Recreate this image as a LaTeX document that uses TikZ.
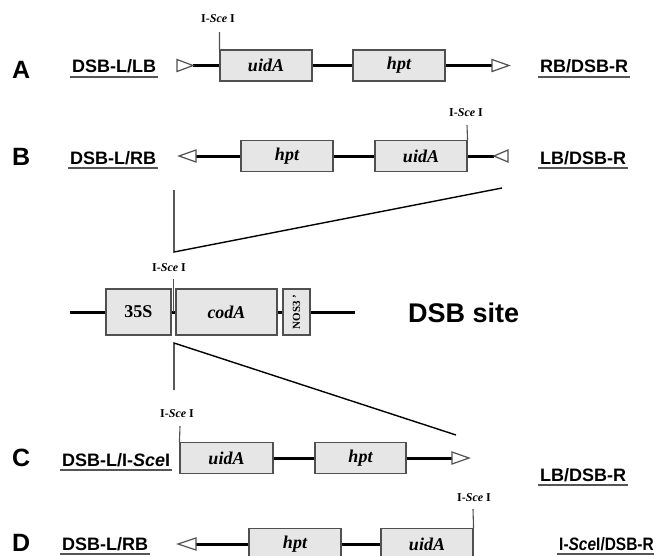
\documentclass[tikz,border=0pt]{standalone}
\usepackage{fontspec}
\setmainfont{Liberation Serif}
\setsansfont{Liberation Sans}
\definecolor{boxfill}{HTML}{E6E6E6}
\definecolor{edgec}{HTML}{505050}
\definecolor{ulc}{HTML}{555555}
\newcommand\ulab[1]{\draw[uline] ([xshift=-2pt,yshift=-4pt]#1.base west) -- ([xshift=2pt,yshift=-4pt]#1.base east);}
\begin{document}
\begin{tikzpicture}[x=1pt,y=-1pt,
  gene/.style={draw=edgec, fill=boxfill, line width=1.1pt, minimum height=31pt, inner sep=0pt,
    font=\fontsize{18}{18}\selectfont\bfseries\itshape},
  dna/.style={line width=3pt, black},
  tri/.style={draw=edgec, fill=white, line width=1.2pt, line join=miter},
  tick/.style={line width=1.1pt, draw=edgec},
  site/.style={font=\fontsize{12}{12}\selectfont\bfseries, inner sep=0pt},
  lab/.style={font=\fontsize{18}{18}\selectfont\sffamily\bfseries, inner sep=0pt, anchor=base west},
  rowlet/.style={font=\fontsize{25}{25}\selectfont\sffamily\bfseries, inner sep=0pt, anchor=base west},
  uline/.style={line width=2pt, draw=ulc},
  funnel/.style={line width=1.4pt, black},
  big/.style={font=\fontsize{27}{27}\selectfont\sffamily\bfseries, inner sep=0pt, anchor=base west}]
\useasboundingbox (0,0) rectangle (654,555);
\clip (0,0) rectangle (654,555);

% ---------- Row A ----------
\node[rowlet] (lA) at (12,78) {A};
\node[lab] (tA1) at (72,72.5) {DSB-L/LB};
\node[lab] (tA2) at (540,72.5) {RB/DSB-R};
\ulab{tA1}\ulab{tA2}
\coordinate (aL) at (193,65.5);
\coordinate (aR) at (493,65.5);
\node[gene, minimum width=92pt] (uA) at (266,65.5) {uidA};
\node[gene, minimum width=92pt] (hA) at (399,65.5) {hpt};
\draw[dna] (aL) -- (uA.west) (uA.east) -- (hA.west) (hA.east) -- (aR);
\draw[tri] (177,59.5) -- (193,65.5) -- (177,71.5) -- cycle;
\draw[tri] (492,59.5) -- (509,65.5) -- (492,71.5) -- cycle;
\node[site] (sA) at (218,18.5) {I-\textit{Sce} I};
\coordinate (kA) at (219.5,32);
\draw[tick] (uA.north west) -- (kA);

% ---------- Row B ----------
\node[rowlet] (lB) at (12,165) {B};
\node[lab] (tB1) at (70,164) {DSB-L/RB};
\node[lab] (tB2) at (540,164) {LB/DSB-R};
\ulab{tB1}\ulab{tB2}
\coordinate (bL) at (196,156);
\coordinate (bR) at (494,156);
\node[gene, minimum width=92pt] (hB) at (287,156) {hpt};
\node[gene, minimum width=92pt] (uB) at (421,156) {uidA};
\draw[dna] (bL) -- (hB.west) (hB.east) -- (uB.west) (uB.east) -- (bR);
\draw[tri] (196,150) -- (179,156) -- (196,162) -- cycle;
\draw[tri] (508,150) -- (494,156) -- (508,162) -- cycle;
\node[site] (sB) at (466,112.5) {I-\textit{Sce} I};
\coordinate (kB) at (467,125);
\draw[tick] (uB.north east) -- (kB);

% ---------- funnel upper ----------
\coordinate (f1) at (174,190);
\coordinate (f2) at (174,252);
\coordinate (f3) at (502,188);
\draw[funnel] (f1) -- (f2) -- (f3);

% ---------- DSB site ----------
\coordinate (dL) at (70,312);
\coordinate (dR) at (355,312);
\node[gene, minimum width=65pt, minimum height=46pt,
  font=\fontsize{18}{18}\selectfont\bfseries] (p35) at (138.5,312) {35S};
\node[gene, minimum width=101pt, minimum height=46pt,
  font=\fontsize{18}{18}\selectfont\bfseries\itshape] (cod) at (226.5,312) {codA};
\node[gene, rotate=90, minimum width=46pt, minimum height=27pt,
  font=\fontsize{11}{11}\selectfont\bfseries] (nos) at (296.5,312) {NOS3 '};
\draw[dna] (dL) -- (p35.west) (p35.east) -- (cod.west) (cod.east) -- (nos.north) (nos.south) -- (dR);
\node[site] (sS) at (169,267.5) {I-\textit{Sce} I};
\coordinate (kS1) at (173.5,279);
\coordinate (kS2) at (173.5,312);
\draw[tick] (kS1) -- (kS2);
\node[big] (dsb) at (408,322) {DSB site};

% ---------- funnel lower ----------
\coordinate (g1) at (174,390);
\coordinate (g2) at (174,343);
\coordinate (g3) at (456,435);
\draw[funnel] (g1) -- (g2) -- (g3);

% ---------- Row C ----------
\node[rowlet] (lC) at (12,466) {C};
\node[lab] (tC1) at (62,466) {DSB-L/I-\textit{Sce}I};
\node[lab] (tC2) at (540,481) {LB/DSB-R};
\ulab{tC1}\ulab{tC2}
\coordinate (cR) at (453,458);
\node[gene, minimum width=93pt] (uC) at (226.5,458) {uidA};
\node[gene, minimum width=91pt] (hC) at (360.5,458) {hpt};
\draw[dna] (uC.east) -- (hC.west) (hC.east) -- (cR);
\draw[tri] (452,452) -- (469,458) -- (452,464) -- cycle;
\node[site] (sC) at (177,413.5) {I-\textit{Sce} I};
\coordinate (kC) at (180,426);
\draw[tick] (uC.north west) -- (kC);

% ---------- Row D ----------
\node[rowlet] (lD) at (12,551) {D};
\node[lab] (tD1) at (62,550) {DSB-L/RB};
\node[lab] (tD2) at (559,550) {\scalebox{0.86}[1]{I-\textit{Sce}I/DSB-R}};
\ulab{tD1}\ulab{tD2}
\coordinate (dDL) at (196,544);
\node[gene, minimum width=92pt] (hD) at (295,544) {hpt};
\node[gene, minimum width=92pt] (uD) at (427,544) {uidA};
\draw[dna] (dDL) -- (hD.west) (hD.east) -- (uD.west);
\draw[tri] (196,538) -- (178,544) -- (196,550) -- cycle;
\node[site] (sD) at (474,498) {I-\textit{Sce} I};
\coordinate (kD) at (473,509);
\draw[tick] (uD.north east) -- (kD);
\end{tikzpicture}
\end{document}
